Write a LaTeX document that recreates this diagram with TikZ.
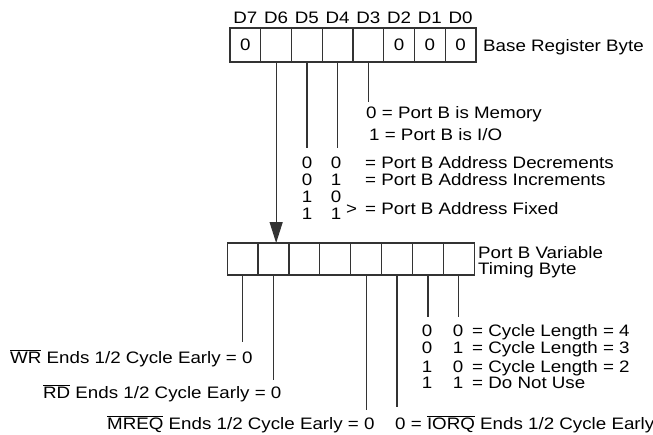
\documentclass[tikz,border=0pt]{standalone}
\usepackage{fontspec}
\setmainfont[FakeStretch=1.13]{Liberation Sans}
\usetikzlibrary{positioning,arrows.meta}
\newcommand{\ovl}[1]{\ensuremath{\overline{\mbox{#1}}}}

\begin{document}
\begin{tikzpicture}[x=1pt,y=-1pt,>={Triangle[width=13pt,length=21pt]},
  font=\fontsize{16.6}{18}\selectfont,
  cell/.style={draw=black!80,line width=1.2pt,minimum width=30.8pt,inner sep=0pt,outer sep=0pt},
  wire/.style={draw=black!80,line width=1.2pt},
  txt/.style={inner sep=0pt,anchor=base west},
  bit/.style={inner sep=0pt,anchor=base}]
\useasboundingbox (0,0) rectangle (653,434);
% base register byte
\foreach \v [count=\i from 0, evaluate=\i as \d using int(7-\i)] in {0,{},{},{},{},0,0,0}{
  \node[cell,minimum height=34pt] (t\d) at (245.4+30.75*\i,45) {\v};
  \node[bit] (d\d) at (245.4+30.75*\i,23) {D\d};
}
\node[txt] (base) at (483,51) {Base Register Byte};
% variable timing byte
\foreach \i [evaluate=\i as \d using int(7-\i)] in {0,...,7}
  \node[cell,minimum height=32pt] (b\d) at (242.5+30.9*\i,259) {};
\node[txt,align=left] (timing) at (478,258) {Port B Variable};
\node[txt] (timing2) at (478,274) {Timing Byte};
% free ends of the bit lines
\path (t5.south) ++(0,86) coordinate (e5);
\path (t4.south) ++(0,86) coordinate (e4);
\path (t3.south) ++(0,40) coordinate (e3);
\path (b7.south) ++(0,67) coordinate (f7);
\path (b6.south) ++(0,105) coordinate (f6);
\path (b3.south) ++(0,135) coordinate (f3);
\path (b2.south) ++(0,132) coordinate (f2);
\path (b1.south) ++(0,42) coordinate (f1);
\path (b0.south) ++(0,42) coordinate (f0);
\draw[wire] (t5) -- (e5);
\draw[wire] (t4) -- (e4);
\draw[wire] (t3) -- (e3);
\draw[wire,->] (t6.south) -- (t6.south |- b6.north);
\foreach \n in {7,6,3,2,1,0}
  \draw[wire] (b\n) -- (f\n);
% port B memory or I/O
\node[txt] (mem) at (366,118) {0 = Port B is Memory};
\node[txt] (io) at (369,140) {1 = Port B is I/O};
% address counting
\foreach \a/\b/\y in {0/0/168,0/1/185,1/0/202,1/1/219}{
  \node[bit] at (307,\y) {\a};
  \node[bit] at (336,\y) {\b};
}
\node[txt] (dec) at (365,168) {= Port B Address Decrements};
\node[txt] (inc) at (365,185) {= Port B Address Increments};
\node[txt] (gt) at (346,214) {>};
\node[txt] (fix) at (365,214) {= Port B Address Fixed};
% cycle length
\foreach \a/\b/\y in {0/0/336,0/1/353,1/0/372,1/1/388}{
  \node[bit] at (427,\y) {\a};
  \node[bit] at (458,\y) {\b};
}
\node[txt] (c4) at (472,336) {= Cycle Length = 4};
\node[txt] (c3) at (472,353) {= Cycle Length = 3};
\node[txt] (c2) at (472,372) {= Cycle Length = 2};
\node[txt] (nu) at (472,388) {= Do Not Use};
% early ends
\node[txt] (wr) at (10,363) {\ovl{WR} Ends 1/2 Cycle Early = 0};
\node[txt] (rd) at (43,398) {\ovl{RD} Ends 1/2 Cycle Early = 0};
\node[txt] (mreq) at (107,429) {\ovl{MREQ} Ends 1/2 Cycle Early = 0};
\node[txt] (iorq) at (395,429) {0 = \ovl{IORQ} Ends 1/2 Cycle Early};
\end{tikzpicture}
\end{document}
